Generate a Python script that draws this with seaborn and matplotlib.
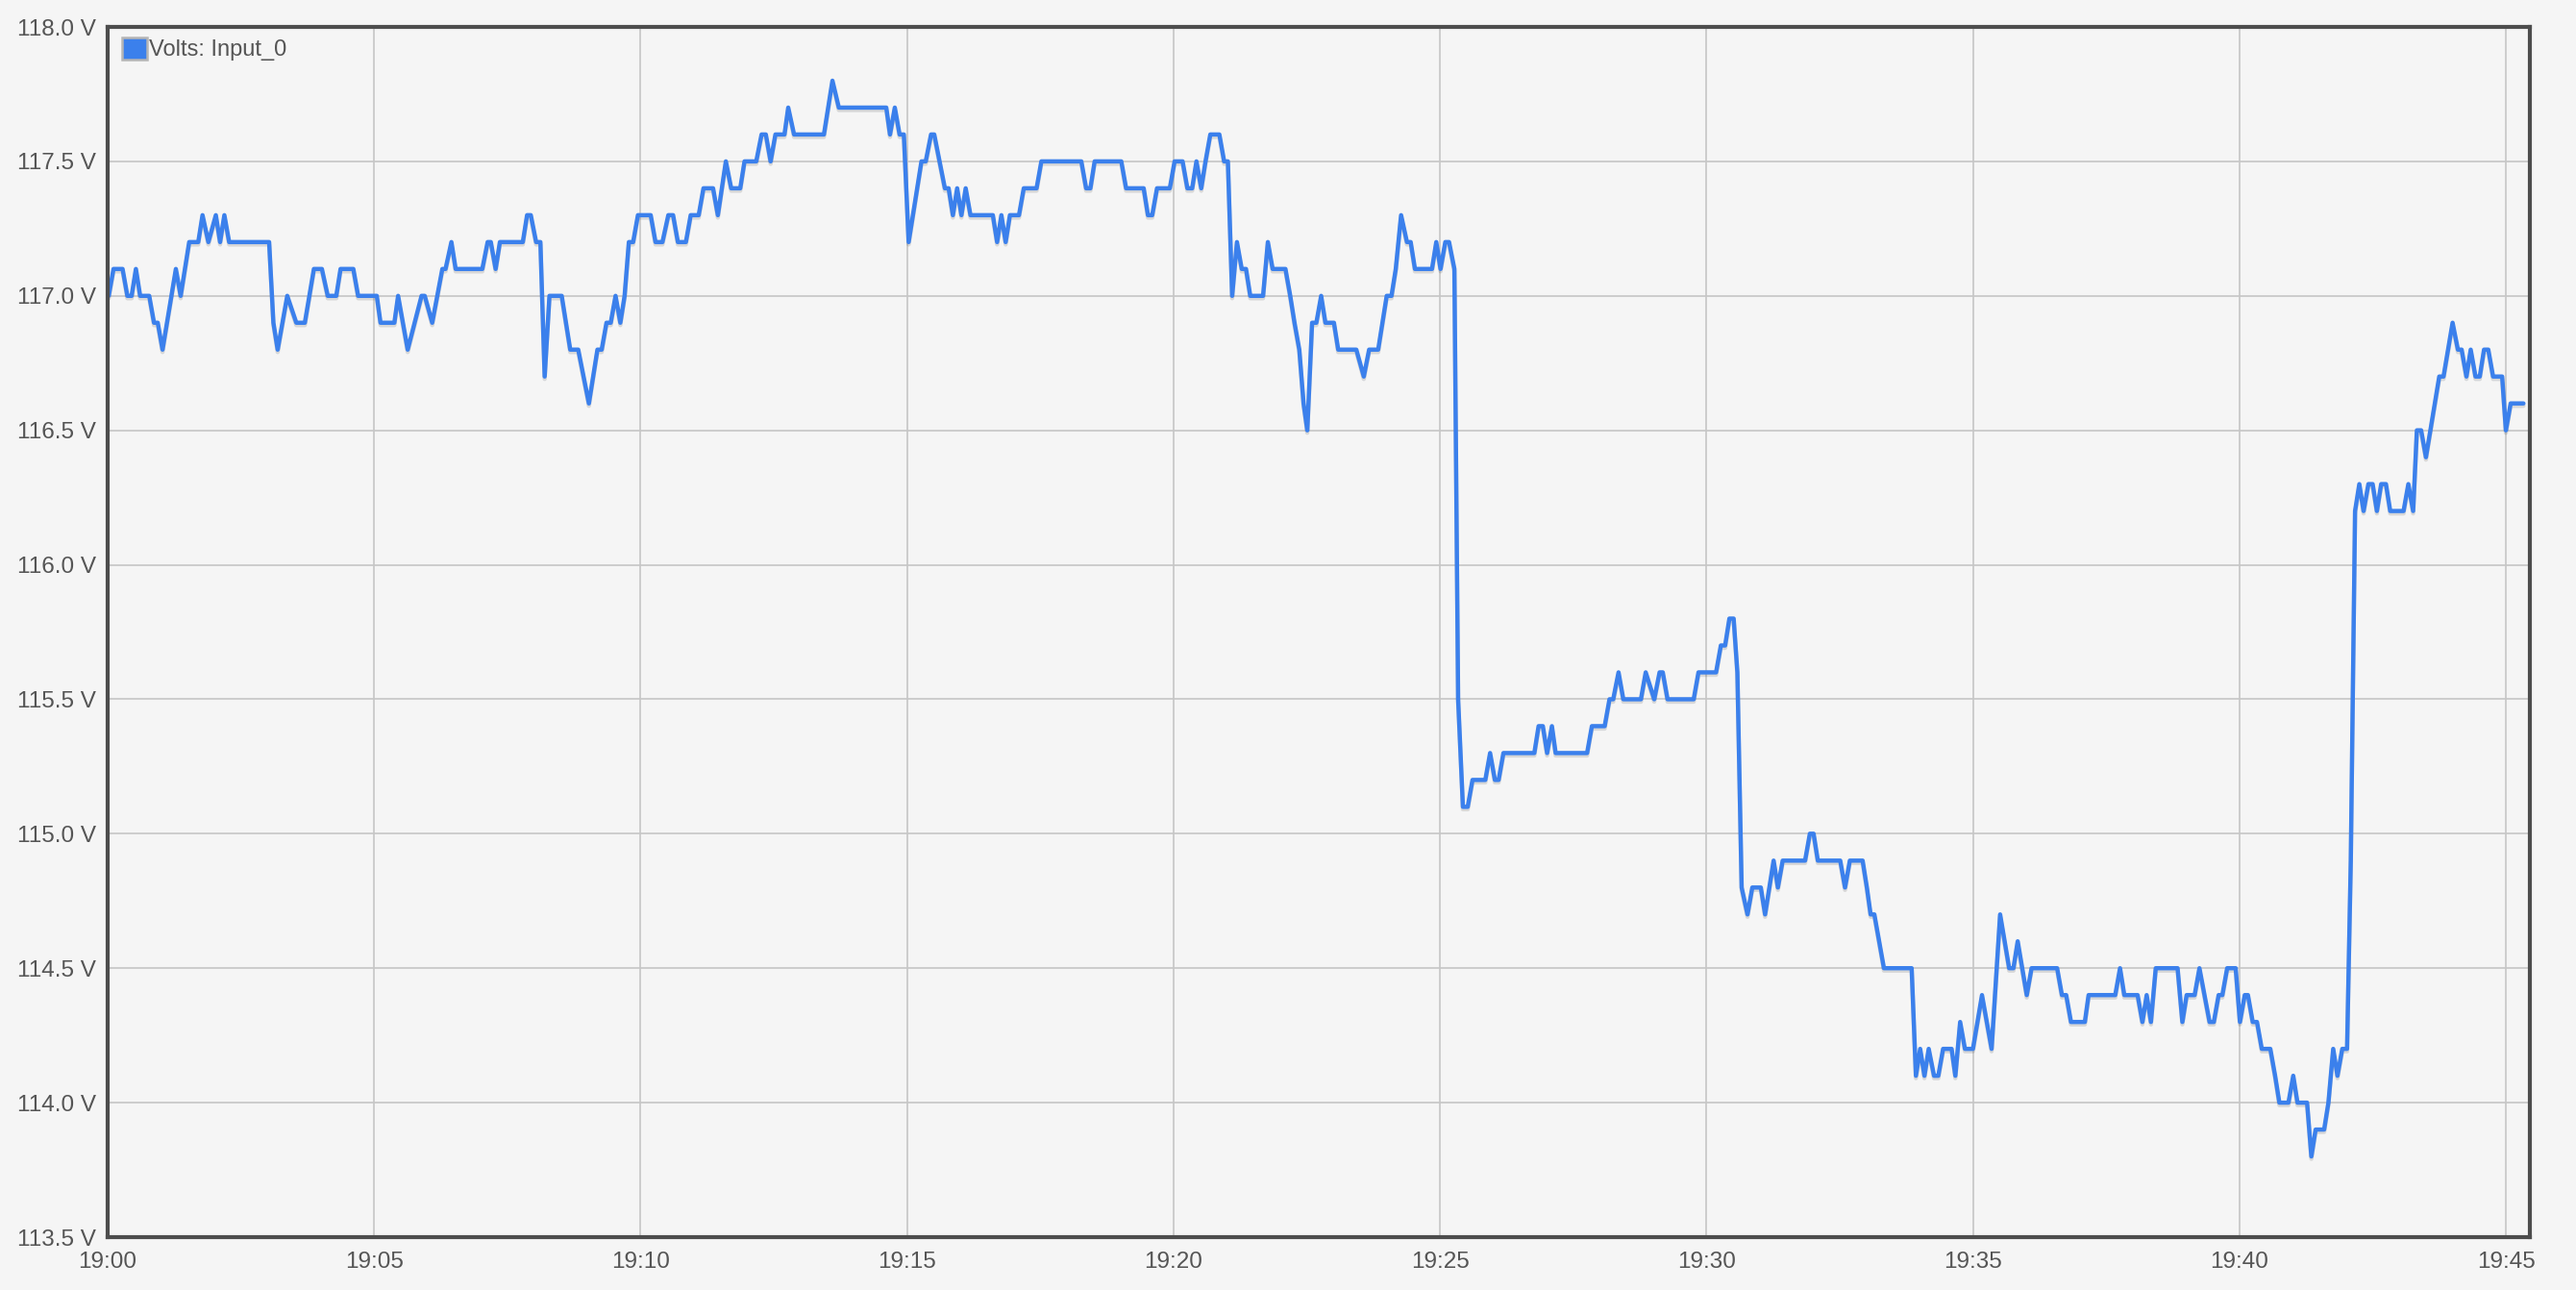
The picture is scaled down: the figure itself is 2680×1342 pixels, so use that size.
import matplotlib
matplotlib.use("Agg")
import matplotlib.pyplot as plt
import matplotlib.dates as mdates
import matplotlib.patheffects as pe
from matplotlib.patches import Patch
from matplotlib.ticker import FixedLocator, FuncFormatter
import numpy as np
import pandas as pd
import seaborn as sns

# ---- data: minutes after 19:00 and measured volts (line vertices) ----
minutes = [
    0.02, 0.11, 0.28, 0.37, 0.45, 0.53, 0.61, 0.78, 0.87, 0.94, 1.03, 1.28, 1.37, 1.53, 1.70, 1.78,
    1.89, 2.03, 2.11, 2.19, 2.28, 3.03, 3.11, 3.19, 3.37, 3.54, 3.70, 3.87, 4.02, 4.13, 4.29, 4.37,
    4.61, 4.70, 5.05, 5.12, 5.38, 5.45, 5.63,
    5.89, 5.95, 6.09, 6.28, 6.34, 6.45, 6.53, 7.03, 7.13, 7.19, 7.28, 7.36, 7.79, 7.87, 7.94, 8.04,
    8.12, 8.20, 8.29, 8.52, 8.68, 8.83, 9.03, 9.19, 9.27, 9.36, 9.44, 9.53, 9.62, 9.70, 9.78, 9.86,
    9.95, 10.19, 10.28, 10.41, 10.52, 10.61, 10.70, 10.85, 10.94, 11.09, 11.18, 11.36, 11.45,
    11.60, 11.70, 11.87, 11.95, 12.17, 12.27, 12.35, 12.44, 12.53, 12.70, 12.77, 12.88, 13.44, 13.60,
    13.72, 14.61, 14.68, 14.77, 14.86, 14.94, 15.03, 15.27, 15.35, 15.45, 15.51, 15.71, 15.78, 15.86,
    15.94, 16.02, 16.10, 16.19, 16.61, 16.69, 16.77, 16.85, 16.93, 17.10, 17.19,
    17.43, 17.52, 18.27, 18.36, 18.44, 18.52, 19.02, 19.11, 19.44, 19.52, 19.60, 19.69, 19.93, 20.02,
    20.17, 20.26, 20.35, 20.43, 20.52, 20.60, 20.69, 20.86, 20.95, 21.02, 21.10, 21.19, 21.28, 21.36,
    21.44, 21.68, 21.77, 21.86, 22.10, 22.19, 22.27, 22.36, 22.44, 22.51, 22.60, 22.68, 22.77,
    22.85, 23.01, 23.09, 23.43, 23.57, 23.67, 23.84, 24.00, 24.09, 24.17, 24.27, 24.38, 24.45, 24.53,
    24.85, 24.93, 25.01, 25.10, 25.17, 25.27, 25.34, 25.43, 25.52, 25.61, 25.85, 25.94, 26.03, 26.10,
    26.19, 26.77, 26.85, 26.93, 27.01, 27.10, 27.17, 27.76, 27.85, 28.09, 28.18, 28.25, 28.35, 28.44,
    28.77, 28.86, 29.02, 29.12, 29.18, 29.27, 29.76, 29.85, 30.18, 30.27, 30.35, 30.43, 30.51, 30.58,
    30.66, 30.77, 30.86, 31.02, 31.10, 31.26, 31.34, 31.43, 31.85, 31.94, 32.01, 32.09, 32.51, 32.60,
    32.69, 32.93, 33.01, 33.08, 33.15, 33.24, 33.33, 33.85, 33.93, 34.01, 34.09, 34.17, 34.27, 34.35,
    34.44, 34.60, 34.67, 34.76, 34.85, 35.00, 35.17, 35.35, 35.51, 35.68, 35.76, 35.84, 36.01, 36.10,
    36.58, 36.67, 36.75, 36.84, 37.10, 37.17, 37.67, 37.76, 37.84, 38.09, 38.18, 38.26, 38.34, 38.43,
    38.84, 38.93, 39.01, 39.16, 39.25, 39.44, 39.52, 39.61, 39.68, 39.77, 39.93, 40.01, 40.10,
    40.16, 40.25, 40.33, 40.42, 40.58, 40.67, 40.75, 40.92, 41.01, 41.09, 41.27, 41.35, 41.43, 41.59,
    41.67, 41.76, 41.84, 41.93, 42.02, 42.09, 42.17, 42.25, 42.33, 42.42, 42.50, 42.58, 42.66, 42.75,
    42.83, 43.08, 43.17, 43.26, 43.33, 43.41, 43.50, 43.75, 43.83, 44.00, 44.10, 44.17, 44.26, 44.34,
    44.43, 44.51, 44.59, 44.67, 44.76, 44.93, 45.00, 45.09, 45.33,
]
volts = [
    117.0, 117.1, 117.1, 117.0, 117.0, 117.1, 117.0, 117.0, 116.9, 116.9, 116.8, 117.1, 117.0, 117.2, 117.2, 117.3,
    117.2, 117.3, 117.2, 117.3, 117.2, 117.2, 116.9, 116.8, 117.0, 116.9, 116.9, 117.1, 117.1, 117.0, 117.0, 117.1,
    117.1, 117.0, 117.0, 116.9, 116.9, 117.0, 116.8,
    117.0, 117.0, 116.9, 117.1, 117.1, 117.2, 117.1, 117.1, 117.2, 117.2, 117.1, 117.2, 117.2, 117.3, 117.3, 117.2,
    117.2, 116.7, 117.0, 117.0, 116.8, 116.8, 116.6, 116.8, 116.8, 116.9, 116.9, 117.0, 116.9, 117.0, 117.2, 117.2,
    117.3, 117.3, 117.2, 117.2, 117.3, 117.3, 117.2, 117.2, 117.3, 117.3, 117.4, 117.4, 117.3,
    117.5, 117.4, 117.4, 117.5, 117.5, 117.6, 117.6, 117.5, 117.6, 117.6, 117.7, 117.6, 117.6, 117.8,
    117.7, 117.7, 117.6, 117.7, 117.6, 117.6, 117.2, 117.5, 117.5, 117.6, 117.6, 117.4, 117.4, 117.3,
    117.4, 117.3, 117.4, 117.3, 117.3, 117.2, 117.3, 117.2, 117.3, 117.3, 117.4,
    117.4, 117.5, 117.5, 117.4, 117.4, 117.5, 117.5, 117.4, 117.4, 117.3, 117.3, 117.4, 117.4, 117.5,
    117.5, 117.4, 117.4, 117.5, 117.4, 117.5, 117.6, 117.6, 117.5, 117.5, 117.0, 117.2, 117.1, 117.1,
    117.0, 117.0, 117.2, 117.1, 117.1, 117.0, 116.9, 116.8, 116.6, 116.5, 116.9, 116.9, 117.0,
    116.9, 116.9, 116.8, 116.8, 116.7, 116.8, 116.8, 117.0, 117.0, 117.1, 117.3, 117.2, 117.2, 117.1,
    117.1, 117.2, 117.1, 117.2, 117.2, 117.1, 115.5, 115.1, 115.1, 115.2, 115.2, 115.3, 115.2, 115.2,
    115.3, 115.3, 115.4, 115.4, 115.3, 115.4, 115.3, 115.3, 115.4, 115.4, 115.5, 115.5, 115.6, 115.5,
    115.5, 115.6, 115.5, 115.6, 115.6, 115.5, 115.5, 115.6, 115.6, 115.7, 115.7, 115.8, 115.8, 115.6,
    114.8, 114.7, 114.8, 114.8, 114.7, 114.9, 114.8, 114.9, 114.9, 115.0, 115.0, 114.9, 114.9, 114.8,
    114.9, 114.9, 114.8, 114.7, 114.7, 114.6, 114.5, 114.5, 114.1, 114.2, 114.1, 114.2, 114.1, 114.1,
    114.2, 114.2, 114.1, 114.3, 114.2, 114.2, 114.4, 114.2, 114.7, 114.5, 114.5, 114.6, 114.4, 114.5,
    114.5, 114.4, 114.4, 114.3, 114.3, 114.4, 114.4, 114.5, 114.4, 114.4, 114.3, 114.4, 114.3, 114.5,
    114.5, 114.3, 114.4, 114.4, 114.5, 114.3, 114.3, 114.4, 114.4, 114.5, 114.5, 114.3, 114.4,
    114.4, 114.3, 114.3, 114.2, 114.2, 114.1, 114.0, 114.0, 114.1, 114.0, 114.0, 113.8, 113.9, 113.9,
    114.0, 114.2, 114.1, 114.2, 114.2, 114.9, 116.2, 116.3, 116.2, 116.3, 116.3, 116.2, 116.3, 116.3,
    116.2, 116.2, 116.3, 116.2, 116.5, 116.5, 116.4, 116.7, 116.7, 116.9, 116.8, 116.8, 116.7, 116.8,
    116.7, 116.7, 116.8, 116.8, 116.7, 116.7, 116.5, 116.6, 116.6,
]
series_name = "Volts: Input_0"
y_ticks = [113.5, 114.0, 114.5, 115.0, 115.5, 116.0, 116.5, 117.0, 117.5, 118.0]
x_tick_minutes = [0, 5, 10, 15, 20, 25, 30, 35, 40, 45]
start = pd.Timestamp("2024-01-01 19:00:00")

df = pd.DataFrame({
    "time": [start + pd.Timedelta(minutes=m) for m in minutes],
    "volts": volts,
})

BG = "#f5f5f5"
LINE = "#3b80ec"
TXT = "#555555"

sns.set_theme(style="whitegrid")
plt.rcParams["font.family"] = ["Liberation Sans", "DejaVu Sans"]

fig = plt.figure(figsize=(26.8, 13.42), dpi=100, facecolor=BG)
ax = fig.add_axes([112 / 2680, 1 - 1287 / 1342, (2632 - 112) / 2680, (1287 - 28) / 1342])
ax.set_facecolor(BG)

sns.lineplot(data=df, x="time", y="volts", ax=ax, color=LINE, linewidth=3.2,
             estimator=None, sort=False,
             path_effects=[pe.SimpleLineShadow(offset=(0, -1.8), shadow_color="#000000", alpha=0.12),
                           pe.Normal()])

ax.set_ylim(113.5, 118.0)
ax.set_xlim(start, start + pd.Timedelta(minutes=45.45))
ax.yaxis.set_major_locator(FixedLocator(y_ticks))
ax.yaxis.set_major_formatter(FuncFormatter(lambda v, p: f"{v:.1f} V"))
ax.set_xticks([start + pd.Timedelta(minutes=m) for m in x_tick_minutes])
ax.xaxis.set_major_formatter(mdates.DateFormatter("%H:%M"))

ax.grid(True, color="#c6c6c6", linewidth=1.2)
ax.set_axisbelow(True)
for s in ax.spines.values():
    s.set_visible(True)
    s.set_color("#4d4d4d")
    s.set_linewidth(3.0)

ax.tick_params(axis="both", length=0, labelsize=17.5, labelcolor=TXT)
ax.tick_params(axis="y", pad=9)
ax.tick_params(axis="x", pad=11)
ax.set_xlabel("")
ax.set_ylabel("")

handle = Patch(facecolor=LINE, edgecolor="#b5b5b5", linewidth=1.8)
leg = ax.legend([handle], [series_name], loc="upper left", bbox_to_anchor=(0.004, 0.995),
                frameon=False, fontsize=17, handlelength=1.1, handleheight=1.1,
                handletextpad=0.1, borderpad=0.2, borderaxespad=0)
for t in leg.get_texts():
    t.set_color(TXT)

fig.savefig("out.png", dpi=100, facecolor=BG)
